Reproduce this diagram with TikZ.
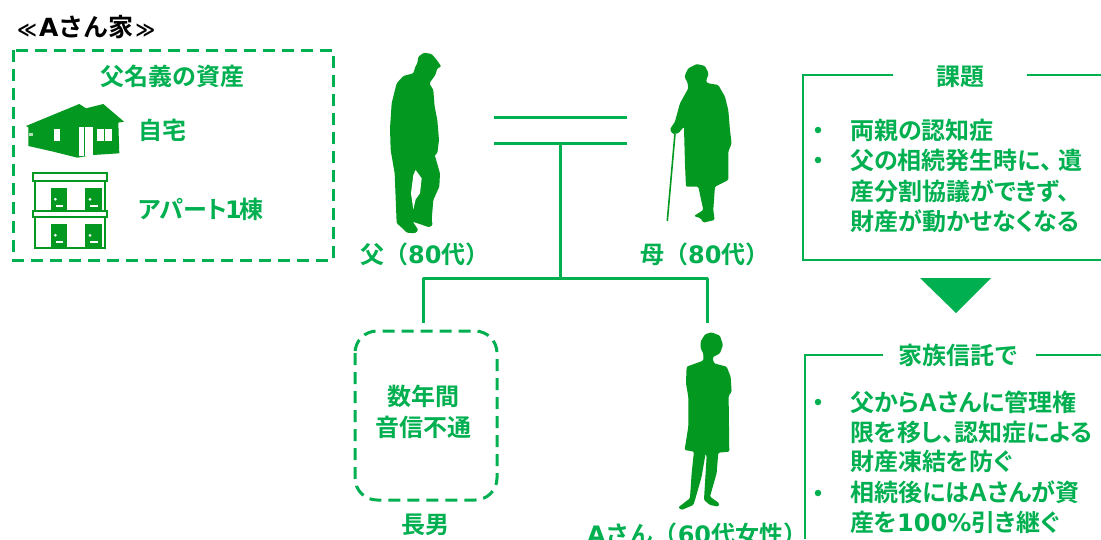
\documentclass[tikz,border=0pt]{standalone}
\usepackage{fontspec}
\setmainfont{Noto Sans CJK JP}[BoldFont=Noto Sans CJK JP Bold]
\newfontfamily\lat{DejaVu Sans Bold}
\newfontfamily\jpp{Noto Sans CJK JP Bold}[RawFeature=+palt]
\definecolor{gline}{HTML}{00B050}
\definecolor{gsil}{HTML}{03981F}
\tikzset{
 x=1pt,y=-1pt,
 bodytext/.style={inner sep=0pt,anchor=base west,text=gline,font=\fontsize{24}{24}\selectfont\bfseries},
 paltext/.style={bodytext,font=\fontsize{24}{24}\jpp},
 midtext/.style={bodytext,anchor=base},
 bullet/.style={circle,fill=gline,inner sep=0pt,minimum size=6.5pt},
 link/.style={draw=gline,line width=3pt},
 panel/.style={draw=gline,line width=2pt},
 dashbox/.style={draw=gline,line width=3pt,dash pattern=on 12pt off 7pt},
 sil/.style={fill=gsil,draw=none,rounded corners=1.2pt},
}
\begin{document}
\begin{tikzpicture}
\clip (0,0) rectangle (1101,539);
\fill[white] (0,0) rectangle (1101,539);
% title
\node[bodytext,text=black,font=\fontsize{25}{25}\selectfont\bfseries] (title) at (17,36) {{\fontsize{19}{19}\lat ≪}\kern2pt{\lat A}さん家\kern2pt{\fontsize{19}{19}\lat ≫}};
% asset box
\draw[dashbox] (13,50) rectangle (333,260);
\node[midtext] (assets) at (172,85) {父名義の資産};
\node[bodytext] (home) at (138,139) {自宅};
\node[paltext] (apt) at (138,218) {アパート\kern-2pt{\lat 1}\kern-2pt 棟};
% house
\begin{scope}[x=0.3333pt,y=-0.3333pt]
\fill[gsil] (78,378)--(238,312)--(258,325)--(310,312)--(372,365)--(355,368)--(358,460)--(280,465)--(232,473)--(160,455)--(85,438)--(85,382)--cycle;
\fill[white] (162,388) rectangle (180,423);
\fill[white] (238,380) rectangle (280,468);
\fill[gsil] (251,380) rectangle (255,468);
\fill[white] (292,388) rectangle (335,423);
\fill[gsil] (312,388) rectangle (316,423);
\fill[white!70!gsil] (88,398) rectangle (98,408);
% apartment
\begin{scope}[draw=gsil,line width=2pt]
\draw (106,543) rectangle (316,743);
\draw[fill=white] (100,520) rectangle (322,543);
\draw[fill=white] (100,632) rectangle (322,652);
\end{scope}
\foreach \dx/\dy in {152/565,256/565,152/673,256/673}{
 \fill[gsil] (\dx,\dy) rectangle ++(50,67);
 \fill[white] (\dx+14,\dy+33) circle (1.5pt);
 \fill[white] (\dx+15,\dy+50) rectangle ++(22,6);
}
\end{scope}
% father
\begin{scope}[shift={(350,40)},x=0.3333pt,y=-0.3333pt]
\fill[sil] (202,70)--(205,50)--(222,38)--(245,42)--(262,62)--(274,80)--(262,85)--(256,105)--(238,130)--(250,150)--(254,200)--(262,240)--(267,300)--(262,340)--(254,345)--(270,400)--(268,440)--(250,480)--(245,540)--(248,555)--(238,562)--(188,545)--(205,570)--(195,580)--(170,578)--(152,560)--(140,550)--(134,400)--(122,330)--(120,265)--(125,190)--(140,130)--(160,108)--(190,100)--(196,80)--cycle;
\fill[white] (197,390)--(215,415)--(210,460)--(197,478)--(190,508)--(183,460)--(190,405)--cycle;
% mother
\fill[sil] (1005,105)--(1015,85)--(1040,72)--(1065,78)--(1076,100)--(1068,125)--(1075,130)--(1105,135)--(1125,170)--(1135,210)--(1140,270)--(1145,310)--(1135,335)--(1135,420)--(1095,440)--(1090,510)--(1094,540)--(1060,548)--(1052,535)--(1032,528)--(1060,510)--(1045,440)--(1008,440)--(1005,370)--(1002,260)--(985,280)--(968,282)--(960,268)--(975,245)--(990,190)--(1015,145)--(1012,125)--(1005,115)--cycle;
\draw[gsil,line width=1.6pt] (975,282)--(952,543);
\end{scope}
% Ms A
\begin{scope}[shift={(340,270)},x=0.3333pt,y=-0.3333pt]
\fill[sil] (1082,215)--(1095,193)--(1115,187)--(1140,197)--(1149,225)--(1140,250)--(1118,262)--(1122,280)--(1160,290)--(1172,320)--(1175,365)--(1166,378)--(1168,545)--(1135,548)--(1130,610)--(1110,680)--(1138,700)--(1135,710)--(1110,705)--(1092,690)--(1100,560)--(1097,550)--(1085,620)--(1065,690)--(1060,705)--(1025,720)--(1015,712)--(1050,685)--(1055,610)--(1062,545)--(1034,540)--(1045,470)--(1045,380)--(1038,340)--(1040,290)--(1090,272)--(1090,250)--(1082,235)--cycle;
\end{scope}
% family tree
\coordinate (upperL) at (494,117);
\coordinate (upperR) at (627,117);
\coordinate (lowerL) at (494,143.5);
\coordinate (lowerR) at (627,143.5);
\coordinate (stemTop) at (560,143.5);
\coordinate (stemBot) at (560,278);
\coordinate (barL) at (423,278);
\coordinate (barR) at (707,278);
\coordinate (sonEnd) at (423,323);
\coordinate (daughterEnd) at (707,323);
\draw[link] (upperL)--(upperR);
\draw[link] (lowerL)--(lowerR);
\draw[link] (stemTop)--(stemBot);
\draw[link,line join=round] (sonEnd)--(barL)--(barR)--(daughterEnd);
\node[bodytext] (father) at (360,263) {父（{\lat 80}代）};
\node[bodytext] (mother) at (640,263) {母（{\lat 80}代）};
% son
\draw[dashbox,rounded corners=22pt] (355,331) rectangle (497,500);
\node[midtext] (son1) at (423,405) {数年間};
\node[midtext] (son2) at (423,436) {音信不通};
\node[midtext] (son) at (425,533) {長男};
\node[bodytext] (msa) at (587,543) {{\lat A}さん（{\lat 60}代女性）};
% issue panel
\draw[panel] (893,75)--(802.5,75)--(802.5,260)--(1101,260);
\draw[panel] (1027,75)--(1101,75);
\node[midtext] (issue) at (960,85) {課題};
\node[bullet] (b1) at (818,130) {};
\node[bullet] (b2) at (818,160) {};
\node[paltext] (i1) at (850,139) {両親の認知症};
\node[paltext] (i2) at (850,169) {父の相続発生時に、\kern6pt 遺};
\node[paltext] (i3) at (850,200) {産分割協議ができず、};
\node[paltext] (i4) at (850,230) {財産が動かせなくなる};
\fill[gline] (920,278)--(991,278)--(956,313)--cycle;
% trust panel
\draw[panel] (883,355)--(805,355)--(805,539);
\draw[panel] (1036,355)--(1101,355);
\node[midtext] (trust) at (958,364) {家族信託で};
\node[bullet] (b3) at (818,402) {};
\node[bullet] (b4) at (818,493) {};
\node[paltext] (t1) at (850,411) {父からＡさんに管理権};
\node[paltext] (t2) at (850,441) {限を移し、認知症による};
\node[paltext] (t3) at (850,470) {財産凍結を防ぐ};
\node[paltext] (t4) at (850,501) {相続後にはＡさんが資};
\node[paltext] (t5) at (850,531) {産を{\lat 100\%}引き継ぐ};
\end{tikzpicture}
\end{document}
